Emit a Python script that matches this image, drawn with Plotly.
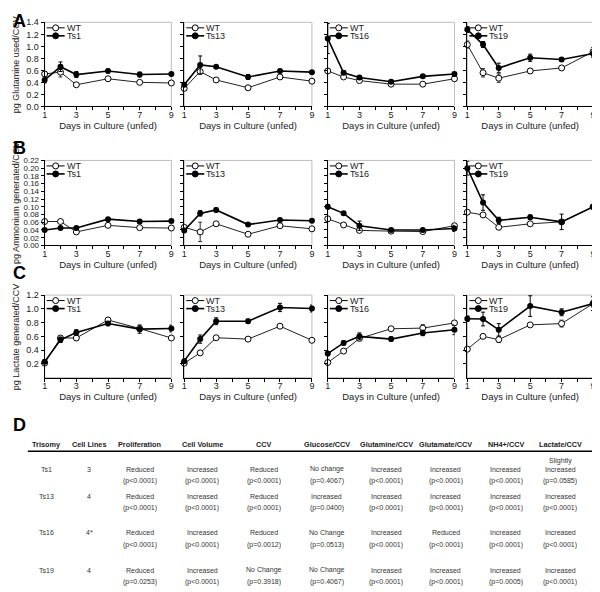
import plotly.graph_objects as go

# The page body adds an 8px margin, so the figure is 8px smaller and all
# reference pixel positions are shifted by -8.
OFF = 8
W, H = 600 - OFF, 592 - OFF
FONT = "Liberation Sans, Arial, sans-serif"

days = [1, 2, 3, 5, 7, 9]
trisomies = ["Ts1", "Ts13", "Ts16", "Ts19"]

# --- A: Glutamine used / CCV ---
gln_wt = [[0.54, 0.57, 0.36, 0.46, 0.40, 0.39],
          [0.30, 0.58, 0.44, 0.31, 0.49, 0.42],
          [0.59, 0.49, 0.43, 0.37, 0.37, 0.46],
          [1.03, 0.56, 0.47, 0.59, 0.64, 0.91]]
gln_wt_err = [[0.04, 0.08, 0.02, 0.02, 0.02, 0.02],
              [0.03, 0.03, 0.02, 0.02, 0.02, 0.02],
              [0.02, 0.02, 0.02, 0.02, 0.02, 0.02],
              [0.06, 0.07, 0.07, 0.04, 0.03, 0.07]]
gln_ts = [[0.44, 0.66, 0.53, 0.59, 0.53, 0.54],
          [0.36, 0.69, 0.66, 0.49, 0.59, 0.57],
          [1.13, 0.56, 0.48, 0.41, 0.50, 0.54],
          [1.28, 1.03, 0.64, 0.81, 0.78, 0.88]]
gln_ts_err = [[0.05, 0.08, 0.05, 0.03, 0.04, 0.02],
              [0.03, 0.15, 0.02, 0.04, 0.02, 0.02],
              [0.25, 0.03, 0.03, 0.02, 0.02, 0.03],
              [0.05, 0.05, 0.08, 0.06, 0.03, 0.06]]

# --- B: Ammonium generated / CCV ---
amm_wt = [[0.062, 0.062, 0.035, 0.052, 0.046, 0.045],
          [0.047, 0.035, 0.056, 0.029, 0.051, 0.043],
          [0.069, 0.053, 0.039, 0.037, 0.036, 0.051],
          [0.086, 0.079, 0.047, 0.056, 0.061, 0.100]]
amm_wt_err = [[0.003, 0.003, 0.003, 0.003, 0.003, 0.003],
              [0.004, 0.025, 0.003, 0.003, 0.003, 0.003],
              [0.004, 0.004, 0.003, 0.003, 0.003, 0.004],
              [0.004, 0.005, 0.004, 0.003, 0.003, 0.004]]
amm_ts = [[0.040, 0.045, 0.045, 0.068, 0.062, 0.063],
          [0.039, 0.083, 0.092, 0.054, 0.066, 0.064],
          [0.100, 0.083, 0.051, 0.040, 0.040, 0.044],
          [0.200, 0.111, 0.065, 0.073, 0.061, 0.100]]
amm_ts_err = [[0.003, 0.003, 0.003, 0.004, 0.004, 0.003],
              [0.004, 0.007, 0.005, 0.003, 0.003, 0.003],
              [0.006, 0.004, 0.012, 0.003, 0.003, 0.008],
              [0.018, 0.02, 0.008, 0.006, 0.02, 0.004]]

# --- C: Lactate generated / CCV ---
lac_wt = [[0.21, 0.576, 0.576, 0.838, 0.714, 0.576],
          [0.21, 0.36, 0.58, 0.56, 0.748, 0.543],
          [0.22, 0.386, 0.57, 0.71, 0.72, 0.795],
          [0.414, 0.60, 0.553, 0.767, 0.786, 1.076]]
lac_wt_err = [[0.02, 0.03, 0.03, 0.03, 0.03, 0.02],
              [0.02, 0.02, 0.02, 0.02, 0.02, 0.02],
              [0.02, 0.02, 0.03, 0.02, 0.05, 0.03],
              [0.02, 0.03, 0.04, 0.02, 0.05, 0.05]]
lac_ts = [[0.23, 0.55, 0.657, 0.786, 0.705, 0.714],
          [0.24, 0.56, 0.82, 0.82, 1.02, 1.005],
          [0.35, 0.505, 0.60, 0.56, 0.65, 0.695],
          [0.857, 0.852, 0.695, 1.04, 0.95, 1.076]]
lac_ts_err = [[0.02, 0.04, 0.04, 0.03, 0.06, 0.05],
              [0.03, 0.06, 0.05, 0.03, 0.06, 0.05],
              [0.03, 0.03, 0.05, 0.03, 0.04, 0.07],
              [0.04, 0.10, 0.09, 0.15, 0.05, 0.10]]

# --- D: summary table ---
table_header = ["Trisomy", "Cell Lines", "Proliferation", "Cell Volume", "CCV",
                "Glucose/CCV", "Glutamine/CCV", "Glutamate/CCV", "NH4+/CCV", "Lactate/CCV"]
table_lines = ["3", "4", "4*", "4"]
table_result = [
    ["Reduced", "Increased", "Reduced", "No change", "Increased", "Increased", "Increased", "Slightly<br>Increased"],
    ["Reduced", "Increased", "Reduced", "Increased", "Increased", "Increased", "Increased", "Increased"],
    ["Reduced", "Increased", "Reduced", "No Change", "Increased", "Reduced", "Increased", "Increased"],
    ["Reduced", "Increased", "No Change", "No Change", "Increased", "Increased", "Increased", "Increased"],
]
table_p = [
    ["p<0.0001", "p<0.0001", "p<0.0001", "p=0.4067", "p<0.0001", "p<0.0001", "p<0.0001", "p=0.0585"],
    ["p<0.0001", "p<0.0001", "p<0.0001", "p=0.0400", "p<0.0001", "p<0.0001", "p<0.0001", "p<0.0001"],
    ["p<0.0001", "p<0.0001", "p=0.0012", "p=0.0513", "p<0.0001", "p<0.0001", "p<0.0001", "p<0.0001"],
    ["p=0.0253", "p<0.0001", "p=0.3918", "p=0.4067", "p<0.0001", "p<0.0001", "p=0.0005", "p<0.0001"],
]

# ---------------- layout geometry (reference pixels) ----------------
panel_x = [(42, 170), (183, 312), (328, 456), (469, 596)]
row_y = [(17.5, 103), (158, 244.5), (295, 379)]


def px(x):
    return (x - OFF) / W


def py(y):
    return 1 - (y - OFF) / H


rows = [
    dict(wt=gln_wt, wte=gln_wt_err, ts=gln_ts, tse=gln_ts_err, rng=[0, 1.4],
         tv=[round(0.2 * i, 1) for i in range(8)], fmt="{:.1f}", tfs=9,
         title="pg Glutamine used/CCV", letter="A"),
    dict(wt=amm_wt, wte=amm_wt_err, ts=amm_ts, tse=amm_ts_err, rng=[0, 0.22],
         tv=[round(0.02 * i, 2) for i in range(12)], fmt="{:.2f}", tfs=8,
         title="pg Ammonium generated/CCV", letter="B"),
    dict(wt=lac_wt, wte=lac_wt_err, ts=lac_ts, tse=lac_ts_err, rng=[0, 1.2],
         tv=[round(0.2 * i, 1) for i in range(1, 7)], fmt="{:.1f}", tfs=9,
         title="pg Lactate generated/CCV", letter="C"),
]
letter_y = [None, 145, 273, 427]

fig = go.Figure()
annotations = []
shapes = []
layout = {}

for r, R in enumerate(rows):
    y0, y1 = row_y[r]
    for c in range(4):
        k = r * 4 + c
        xa = "x" if k == 0 else f"x{k + 1}"
        ya = "y" if k == 0 else f"y{k + 1}"
        x0, x1 = panel_x[c]
        fig.add_trace(go.Scatter(
            x=days, y=R["wt"][c], name="WT", mode="lines+markers",
            xaxis=xa, yaxis=ya, cliponaxis=False, showlegend=False,
            line=dict(color="#222222", width=1),
            marker=dict(symbol="circle", size=6, color="white",
                        line=dict(color="black", width=1)),
            error_y=dict(type="data", array=R["wte"][c], color="#333333",
                         thickness=1, width=2)))
        fig.add_trace(go.Scatter(
            x=days, y=R["ts"][c], name=trisomies[c], mode="lines+markers",
            xaxis=xa, yaxis=ya, cliponaxis=False, showlegend=False,
            line=dict(color="black", width=1.6),
            marker=dict(symbol="circle", size=6, color="black"),
            error_y=dict(type="data", array=R["tse"][c], color="black",
                         thickness=1, width=2)))
        xkey = "xaxis" if k == 0 else f"xaxis{k + 1}"
        ykey = "yaxis" if k == 0 else f"yaxis{k + 1}"
        layout[xkey] = dict(
            domain=[px(x0), px(x1)], anchor=ya, range=[1, 9],
            tickvals=list(range(1, 10)),
            ticktext=[str(v) if v % 2 == 1 else "" for v in range(1, 10)],
            ticks="outside", ticklen=3, tickwidth=1, tickcolor="black",
            ticklabelstandoff=-3,
            showline=True, linecolor="black", linewidth=1,
            showgrid=False, zeroline=False,
            tickfont=dict(size=9, family=FONT, color="#222"),
            title=dict(text="Days in Culture (unfed)", standoff=2,
                       font=dict(size=9.5, family=FONT, color="#222")))
        layout[ykey] = dict(
            domain=[py(y1), py(y0)], anchor=xa, range=R["rng"],
            tickvals=R["tv"], ticktext=[R["fmt"].format(v) for v in R["tv"]],
            showticklabels=(c == 0),
            ticks="outside", ticklen=3, tickwidth=1, tickcolor="black",
            showline=True, linecolor="black", linewidth=1,
            showgrid=False, zeroline=False,
            tickfont=dict(size=R["tfs"], family=FONT, color="#222"))
        # light frame on top/right
        shapes.append(dict(type="rect", xref=f"{xa} domain", yref=f"{ya} domain",
                           x0=0, x1=1, y0=0, y1=1, layer="below",
                           line=dict(color="#bdbdbd", width=1)))
        # compact in-panel legend
        for lname, fill, lw, dy in [("WT", "white", 1, -5.5),
                                    (trisomies[c], "black", 1.6, -13.5)]:
            shapes.append(dict(type="line", xref=f"{xa} domain", yref=f"{ya} domain",
                               xsizemode="pixel", xanchor=0, x0=2, x1=20,
                               ysizemode="pixel", yanchor=1, y0=dy, y1=dy,
                               line=dict(color="black", width=lw)))
            shapes.append(dict(type="circle", xref=f"{xa} domain", yref=f"{ya} domain",
                               xsizemode="pixel", xanchor=0, x0=8, x1=14,
                               ysizemode="pixel", yanchor=1, y0=dy - 3, y1=dy + 3,
                               fillcolor=fill, line=dict(color="black", width=1)))
            annotations.append(dict(text=lname, xref=f"{xa} domain", yref=f"{ya} domain",
                                    x=0, y=1, xshift=20, yshift=dy, showarrow=False,
                                    xanchor="left", yanchor="middle",
                                    font=dict(size=9, family=FONT, color="#222")))
    annotations.append(dict(text=R["title"], x=px(13), y=py((y0 + y1) / 2),
                            xref="paper", yref="paper", showarrow=False,
                            textangle=-90, xanchor="center", yanchor="middle",
                            font=dict(size=9, family=FONT, color="#222")))
    if r == 0:
        annotations.append(dict(text=f"<b>{R['letter']}</b>", x=0, y=1, yshift=4,
                                xref="paper", yref="paper", showarrow=False,
                                xanchor="left", yanchor="top",
                                font=dict(size=18, family=FONT, color="black")))
    else:
        annotations.append(dict(text=f"<b>{R['letter']}</b>", x=0, y=py(letter_y[r]),
                                xref="paper", yref="paper", showarrow=False,
                                xanchor="left", yanchor="middle",
                                font=dict(size=18, family=FONT, color="black")))

# ---------------- table D ----------------
annotations.append(dict(text="<b>D</b>", x=0, y=py(letter_y[3]), xref="paper", yref="paper",
                        showarrow=False, xanchor="left", yanchor="middle",
                        font=dict(size=18, family=FONT, color="black")))
col_x = [44, 87, 138, 201, 264, 327, 387, 447, 508, 563]
header_y = 447
row_text_y = [472, 500, 537, 575]
p_offset = 12
for j, h in enumerate(table_header):
    annotations.append(dict(text=f"<b>{h}</b>", x=px(col_x[j]), y=py(header_y),
                            xref="paper", yref="paper", showarrow=False,
                            xanchor="center", yanchor="middle",
                            font=dict(size=7.3, family=FONT, color="#222")))
shapes.append(dict(type="line", xref="paper", yref="paper",
                   x0=px(25), x1=px(598), y0=py(454), y1=py(454),
                   line=dict(color="black", width=1.5)))
cell_font = dict(size=7, family=FONT, color="#333")
for i, tname in enumerate(trisomies):
    yy = row_text_y[i]
    annotations.append(dict(text=tname, x=px(col_x[0]), y=py(yy), xref="paper", yref="paper",
                            showarrow=False, xanchor="center", yanchor="middle", font=cell_font))
    annotations.append(dict(text=table_lines[i], x=px(col_x[1]), y=py(yy), xref="paper", yref="paper",
                            showarrow=False, xanchor="center", yanchor="middle", font=cell_font))
    for j in range(8):
        res = table_result[i][j]
        ty = yy - 4 if "<br>" in res else yy
        annotations.append(dict(text=res, x=px(col_x[j + 2]), y=py(ty), xref="paper", yref="paper",
                                showarrow=False, xanchor="center", yanchor="middle", font=cell_font))
        annotations.append(dict(text=f"({table_p[i][j]})", x=px(col_x[j + 2]), y=py(yy + p_offset),
                                xref="paper", yref="paper", showarrow=False,
                                xanchor="center", yanchor="middle", font=cell_font))

fig.update_layout(
    width=W, height=H, margin=dict(l=0, r=0, t=0, b=0),
    paper_bgcolor="white", plot_bgcolor="white",
    showlegend=False, annotations=annotations, shapes=shapes,
    font=dict(family=FONT, color="#222"),
    **layout)

fig.write_html("out.html")
